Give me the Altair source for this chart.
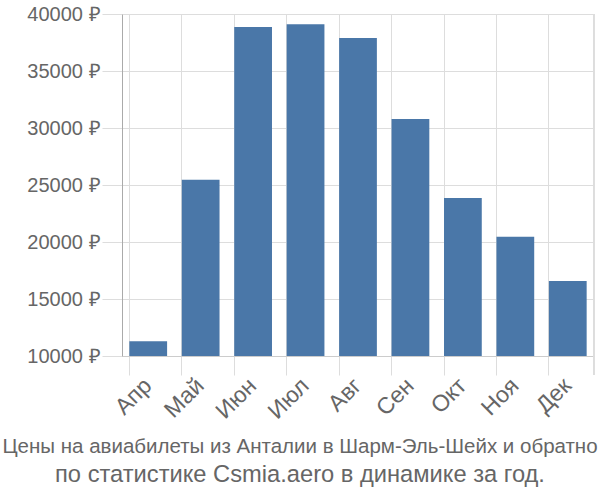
import altair as alt
import pandas as pd

months = ["Апр", "Май", "Июн", "Июл", "Авг", "Сен", "Окт", "Ноя", "Дек"]
prices = [11300, 25450, 38870, 39100, 37900, 30800, 23850, 20450, 16580]
y_ticks = [10000, 15000, 20000, 25000, 30000, 35000, 40000]
title_line1 = "Цены на авиабилеты из Анталии в Шарм-Эль-Шейх и обратно"
title_line2 = "по статистике Csmia.aero в динамике за год."

df = pd.DataFrame({"month": months, "price": prices})

bars = alt.Chart(df).mark_bar(color="#4a77a8", clip=True).encode(
    x=alt.X("month:N", sort=months, title=None,
            scale=alt.Scale(paddingInner=0.28, paddingOuter=0.14),
            axis=alt.Axis(bandPosition=0, grid=True, gridColor="#ddd",
                          tickSize=19, tickColor="#ddd", domainColor="#ccc",
                          labelAngle=-45, labelFontSize=23, labelColor="#666",
                          labelFont="Liberation Sans", labelPadding=-1,
                          labelOffset=-8)),
    y=alt.Y("price:Q", title=None,
            scale=alt.Scale(domain=[10000, 40000], zero=False, nice=False),
            axis=alt.Axis(values=y_ticks, labelExpr="datum.value + ' ₽'",
                          tickSize=20, tickColor="#ddd", gridColor="#ddd",
                          domainColor="#aaa", labelFontSize=20, labelColor="#666",
                          labelFont="Liberation Sans", labelPadding=2)),
)

edge = alt.Chart(df).mark_rule(color="#ddd").encode(
    x=alt.value(472), y=alt.value(0), y2=alt.value(361)
)

chart = alt.layer(bars, edge).properties(
    width=472, height=342,
    autosize=alt.AutoSizeParams(type="none"),
    padding={"left": 122, "top": 14, "right": 6, "bottom": 144},
    title=alt.TitleParams(text=title_line1, subtitle=title_line2,
                          orient="bottom", anchor="middle",
                          fontSize=20.5, font="Liberation Sans",
                          color="#666", fontWeight="normal", offset=14,
                          subtitleFontSize=23.7, subtitleFont="Liberation Sans",
                          subtitleColor="#666", subtitlePadding=5,
                          dx=-58),
).configure_view(stroke=None)

chart.save("out.html", embed_options={"renderer": "svg", "actions": False})
